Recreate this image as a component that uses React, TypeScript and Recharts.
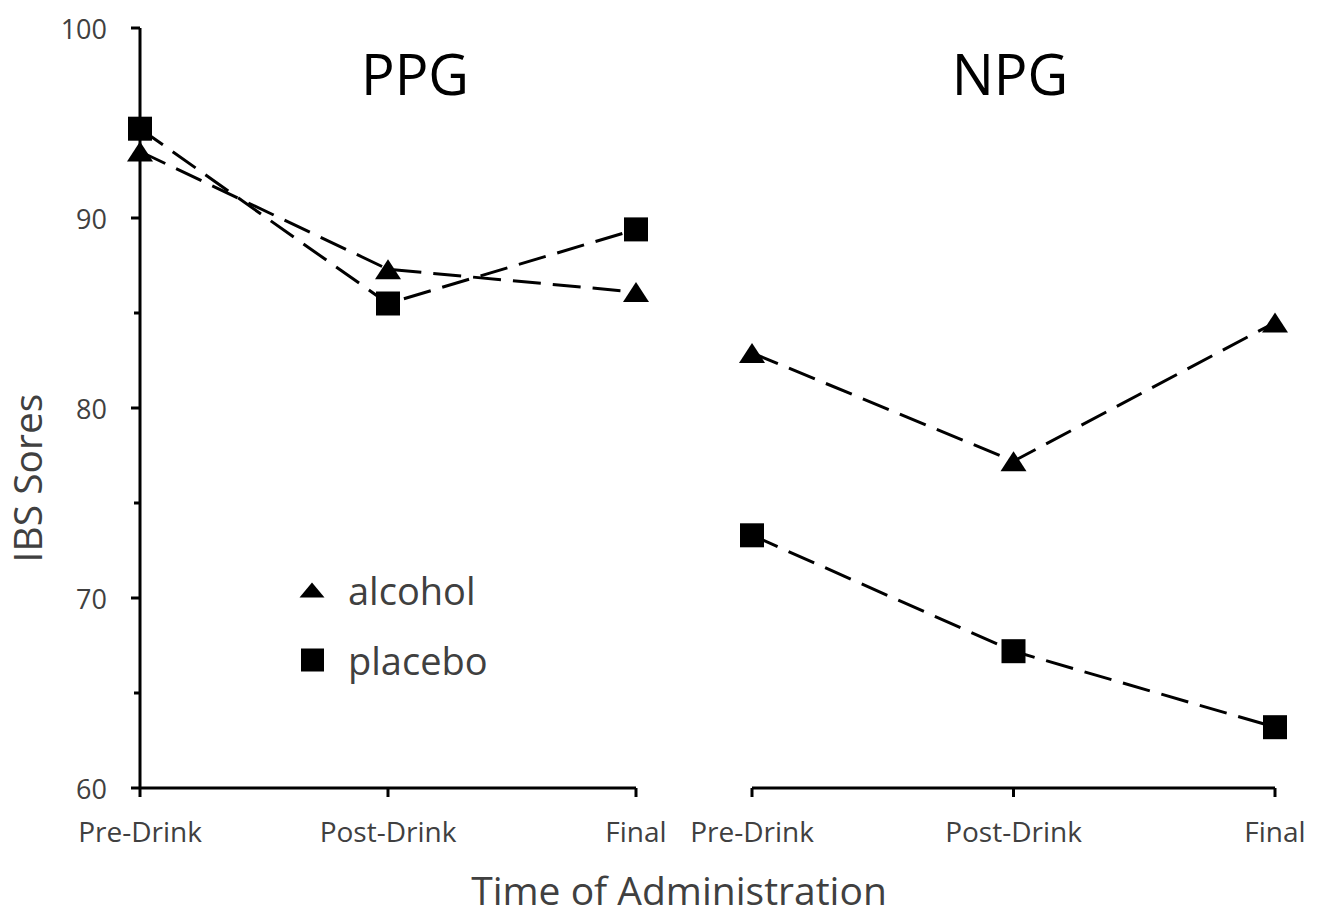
import { Legend, Line, LineChart, XAxis, YAxis } from "recharts";

const categories = ["Pre-Drink", "Post-Drink", "Final"];
const ppgAlcohol = [93.5, 87.3, 86.1];
const ppgPlacebo = [94.7, 85.5, 89.4];
const npgAlcohol = [82.9, 77.2, 84.5];
const npgPlacebo = [73.3, 67.2, 63.2];
const yTicks = [60, 65, 70, 75, 80, 85, 90, 95, 100];

const FONT = '"Open Sans", sans-serif';
const INK = "#000";
const TEXT = "#404040";
const DASH = "28 12";

const ppgData = categories.map((time, i) => ({
  time,
  alcohol: ppgAlcohol[i],
  placebo: ppgPlacebo[i],
}));
const npgData = categories.map((time, i) => ({
  time,
  alcohol: npgAlcohol[i],
  placebo: npgPlacebo[i],
}));

function triangleDot(props: any) {
  const { cx, cy, index } = props;
  if (cx == null || cy == null) return <g key={`t-${index}`} />;
  return (
    <path
      key={`t-${index}`}
      d={`M${cx},${cy - 10}L${cx + 13},${cy + 10}L${cx - 13},${cy + 10}Z`}
      fill={INK}
    />
  );
}

function squareDot(props: any) {
  const { cx, cy, index } = props;
  if (cx == null || cy == null) return <g key={`s-${index}`} />;
  return <rect key={`s-${index}`} x={cx - 12} y={cy - 12} width={24} height={24} fill={INK} />;
}

function YTick(props: any) {
  const { x, y, payload } = props;
  const major = payload.value % 10 === 0;
  return (
    <g>
      <line x1={x - (major ? 9 : 6)} x2={x} y1={y} y2={y} stroke={INK} strokeWidth={3} />
      {major && (
        <text
          x={x - 33}
          y={y}
          textAnchor="end"
          dominantBaseline="central"
          fontSize={27}
          fill={TEXT}
          fontFamily={FONT}
        >
          {payload.value}
        </text>
      )}
    </g>
  );
}

function LegendContent(props: any) {
  const { payload } = props;
  return (
    <div>
      {(payload || []).map((entry: any) => (
        <div
          key={entry.value}
          style={{ display: "flex", alignItems: "center", height: 70 }}
        >
          <svg width={28} height={28} style={{ display: "block" }}>
            {entry.type === "triangle" ? (
              <path d="M14,6.5L26.5,21.5L1.5,21.5Z" fill={INK} />
            ) : (
              <rect x={3} y={2.5} width={23} height={23} fill={INK} />
            )}
          </svg>
          <span
            style={{
              marginLeft: 22,
              fontFamily: FONT,
              fontSize: 38,
              color: TEXT,
              lineHeight: "70px",
            }}
          >
            {entry.value}
          </span>
        </div>
      ))}
    </div>
  );
}

const xAxisProps = {
  dataKey: "time",
  height: 129,
  interval: 0 as const,
  tickSize: 9,
  tickMargin: 25,
  axisLine: { stroke: INK, strokeWidth: 3 },
  tickLine: { stroke: INK, strokeWidth: 3 },
  tick: { fill: TEXT, fontSize: 28, fontFamily: FONT },
};

export default function App() {
  return (
    <div
      style={{
        position: "absolute",
        left: 0,
        top: 0,
        width: 1322,
        height: 917,
        background: "#fff",
      }}
    >
      <div style={{ position: "absolute", left: 0, top: 0 }}>
        <LineChart
          width={680}
          height={917}
          data={ppgData}
          margin={{ top: 28, right: 44, bottom: 0, left: 0 }}
        >
          <XAxis {...xAxisProps} />
          <YAxis
            width={140}
            domain={[60, 100]}
            ticks={yTicks}
            interval={0}
            tickSize={0}
            tickMargin={0}
            tickLine={false}
            axisLine={{ stroke: INK, strokeWidth: 3 }}
            tick={<YTick />}
          />
          <Legend
            layout="vertical"
            align="center"
            verticalAlign="middle"
            content={<LegendContent />}
            wrapperStyle={{ left: 298, top: 555, width: 240 }}
          />
          <Line
            dataKey="alcohol"
            name="alcohol"
            legendType="triangle"
            type="linear"
            stroke={INK}
            strokeWidth={3}
            strokeDasharray={DASH}
            dot={triangleDot}
            activeDot={false}
            isAnimationActive={false}
          />
          <Line
            dataKey="placebo"
            name="placebo"
            legendType="square"
            type="linear"
            stroke={INK}
            strokeWidth={3}
            strokeDasharray={DASH}
            dot={squareDot}
            activeDot={false}
            isAnimationActive={false}
          />
        </LineChart>
      </div>
      <div style={{ position: "absolute", left: 660, top: 0 }}>
        <LineChart
          width={662}
          height={917}
          data={npgData}
          margin={{ top: 28, right: 47, bottom: 0, left: 92 }}
        >
          <XAxis {...xAxisProps} />
          <YAxis hide domain={[60, 100]} ticks={yTicks} />
          <Line
            dataKey="alcohol"
            name="alcohol"
            type="linear"
            stroke={INK}
            strokeWidth={3}
            strokeDasharray={DASH}
            dot={triangleDot}
            activeDot={false}
            isAnimationActive={false}
          />
          <Line
            dataKey="placebo"
            name="placebo"
            type="linear"
            stroke={INK}
            strokeWidth={3}
            strokeDasharray={DASH}
            dot={squareDot}
            activeDot={false}
            isAnimationActive={false}
          />
        </LineChart>
      </div>
      <svg
        width={1322}
        height={917}
        style={{ position: "absolute", left: 0, top: 0, pointerEvents: "none" }}
      >
        <text x={415} y={95} textAnchor="middle" fontSize={56} fill={INK} fontFamily={FONT}>
          PPG
        </text>
        <text x={1010} y={95} textAnchor="middle" fontSize={56} fill={INK} fontFamily={FONT}>
          NPG
        </text>
        <text
          x={42}
          y={478}
          textAnchor="middle"
          fontSize={39}
          fill={TEXT}
          fontFamily={FONT}
          transform="rotate(-90, 42, 478)"
        >
          IBS Sores
        </text>
        <text x={679} y={905} textAnchor="middle" fontSize={39} fill={TEXT} fontFamily={FONT}>
          Time of Administration
        </text>
      </svg>
    </div>
  );
}
